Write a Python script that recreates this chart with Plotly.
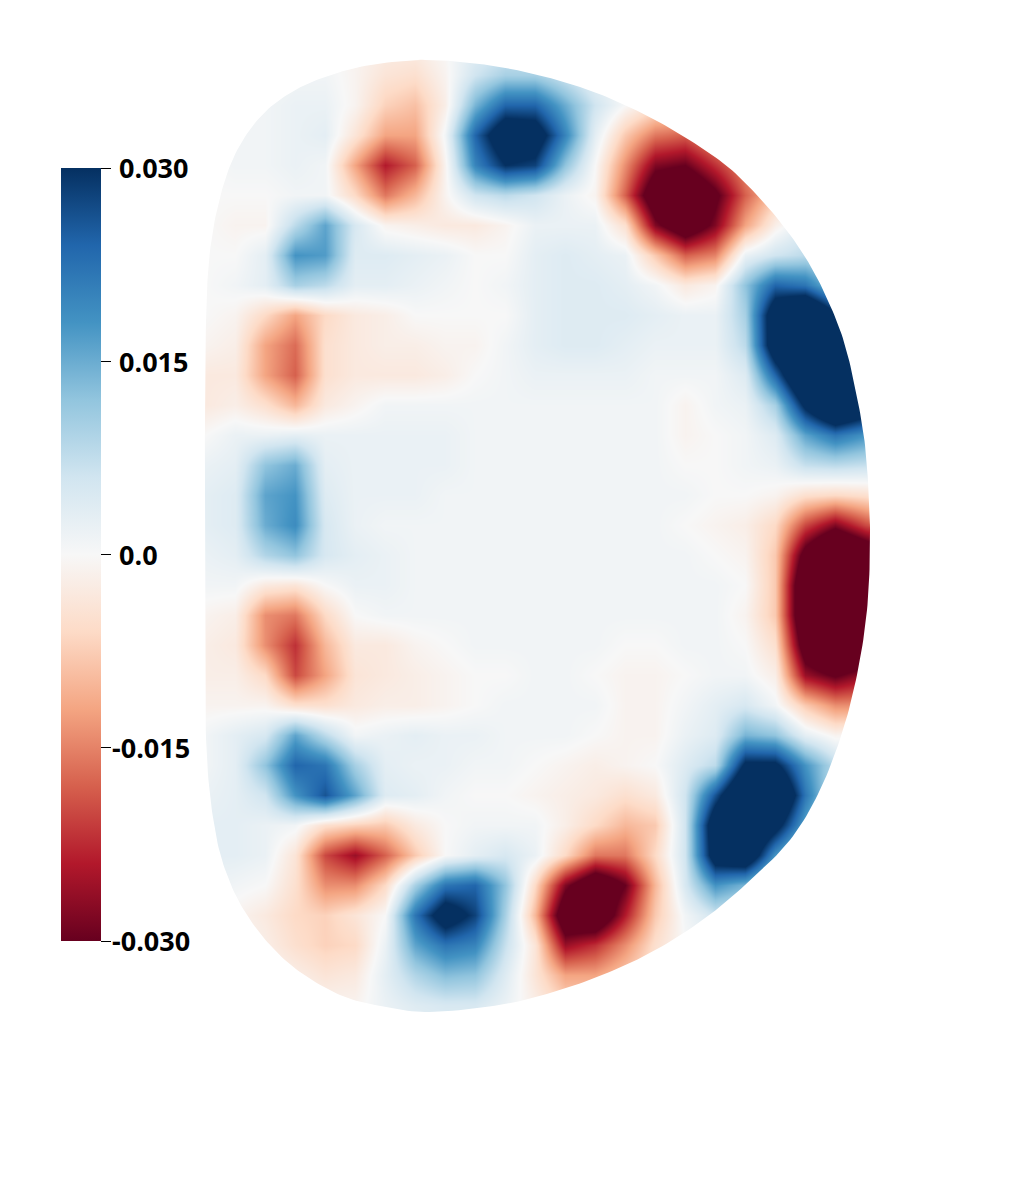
import plotly.graph_objects as go
import numpy as np

R = [1.025 + 0.15 * i for i in range(24)]
Z = [2.45 - 0.15 * i for i in range(34)]

# Field values, units of 1e-3, rows top to bottom
field = [
 [0,0,0,0,0,-1,-2,-2,0,3,4,4,2,1,0,0,0,0,0,0,0,0,0,0],
 [0,0,0,1,1,-1,-4,-5,-1,6,10,10,6,2,0,0,0,0,0,0,0,0,0,0],
 [0,0,1,2,2,-1,-7,-9,-2,14,24,24,15,6,0,-4,-5,-3,0,0,0,0,0,0],
 [0,1,1,2,3,-4,-12,-12,1,24,38,36,20,3,-8,-16,-18,-12,-4,0,0,0,0,0],
 [0,1,1,2,1,-12,-24,-18,-1,20,30,28,12,0,-14,-28,-30,-22,-14,-8,0,0,0,0],
 [0,0,0,1,1,-6,-16,-10,-1,6,8,6,2,-1,-18,-38,-42,-32,-18,-8,0,0,0,0],
 [0,-1,-1,8,16,5,-1,-2,-3,-3,-1,2,2,2,-5,-28,-38,-28,-12,-2,4,4,0,0],
 [0,0,3,18,17,4,4,3,2,0,0,3,4,3,2,-8,-18,-15,2,6,8,6,4,0],
 [0,1,3,10,8,3,3,2,1,0,1,3,4,4,3,1,-3,-1,12,24,22,12,8,2],
 [0,-1,-6,-12,-6,-3,-2,0,0,0,0,3,4,4,4,3,2,2,10,38,46,32,20,10],
 [-1,-2,-12,-17,-5,-3,-2,-2,-1,-1,1,3,4,4,3,2,2,2,8,38,46,46,30,15],
 [-3,-3,-12,-18,-5,-3,-3,-3,-2,0,1,2,2,2,2,1,1,1,4,24,46,48,38,20],
 [-3,-2,-5,-10,-3,-1,1,1,1,1,1,1,1,1,1,1,-1,1,2,10,32,46,38,25],
 [0,2,2,3,2,2,2,2,2,1,1,1,1,1,1,1,-1,0,1,4,16,22,18,15],
 [2,3,12,15,3,2,2,2,2,1,1,1,1,1,1,1,0,0,1,2,7,8,7,6],
 [3,4,16,18,4,2,2,2,1,1,1,1,1,1,1,1,1,0,0,-1,-5,-6,-5,-2],
 [3,4,15,19,5,2,1,1,1,1,1,1,1,1,1,1,0,-1,-2,-6,-20,-28,-20,-15],
 [2,3,9,12,5,3,2,1,1,1,1,1,1,1,1,1,1,0,-1,-8,-34,-48,-40,-30],
 [1,1,-3,-4,0,2,2,1,1,1,1,1,1,1,1,1,1,1,0,-8,-42,-48,-46,-30],
 [-1,-2,-14,-16,-6,0,1,1,1,1,1,1,1,1,1,1,1,1,-1,-8,-42,-48,-46,-30],
 [-2,-3,-14,-22,-10,-3,-3,-1,0,1,1,1,1,1,0,0,1,1,0,-5,-36,-46,-42,-30],
 [-2,-2,-6,-20,-12,-4,-3,-2,-1,0,0,1,1,0,-1,-1,0,1,1,-2,-26,-31,-26,-15],
 [-1,-1,-1,-5,-5,-3,-2,-2,-1,0,1,1,1,1,-1,-1,1,3,5,1,-8,-14,-14,-4],
 [1,3,5,16,8,1,2,3,2,2,1,1,1,0,-1,-1,2,4,14,12,3,-1,0,0],
 [1,3,12,24,22,10,3,2,2,1,1,0,-1,-2,-1,0,4,8,32,32,18,8,1,0],
 [2,3,6,18,26,16,4,3,1,0,0,-1,-2,-3,-5,-3,6,26,46,46,22,6,1,0],
 [3,3,2,1,-5,-7,-8,-3,0,1,1,1,-2,-6,-10,-8,6,38,46,34,16,4,0,0],
 [3,3,2,-4,-20,-26,-18,-8,0,3,5,2,-6,-16,-16,-6,6,36,40,18,6,2,0,0],
 [2,1,0,-5,-14,-14,-6,10,22,24,12,-6,-28,-40,-30,-10,5,18,14,6,2,0,0,0],
 [0,-1,-3,-6,-7,-4,0,22,36,28,10,-10,-38,-40,-24,-8,1,6,4,1,0,0,0,0],
 [0,0,-2,-5,-7,-6,2,16,22,20,7,-4,-26,-22,-14,-5,0,1,0,0,0,0,0,0],
 [0,0,0,-2,-4,-3,3,9,13,12,4,-4,-12,-12,-8,-3,0,0,0,0,0,0,0,0],
 [0,0,0,0,-1,-1,2,4,5,5,2,-2,-6,-6,-4,-1,0,0,0,0,0,0,0,0],
 [0,0,0,0,0,0,1,2,3,3,1,-1,-3,-3,-2,0,0,0,0,0,0,0,0,0],
]

# Plasma boundary, clockwise from the top
boundary_r = [2.125,2.40,2.65,2.90,3.125,3.365,3.615,3.775,3.925,4.05,4.15,4.225,4.285,4.325,4.345,4.35,4.335,4.29,4.215,4.10,3.95,3.725,3.50,3.25,3.00,2.75,2.50,2.15,1.90,1.70,1.50,1.35,1.225,1.135,1.075,1.035,1.025,1.025,1.025,1.035,1.065,1.125,1.20,1.31,1.45,1.625,1.85]
boundary_z = [2.375,2.355,2.31,2.24,2.15,2.025,1.86,1.71,1.535,1.35,1.15,0.95,0.69,0.45,0.175,-0.075,-0.375,-0.675,-0.975,-1.275,-1.525,-1.75,-1.935,-2.09,-2.205,-2.29,-2.35,-2.385,-2.355,-2.30,-2.185,-2.05,-1.885,-1.70,-1.475,-1.125,-0.625,0.175,0.675,1.225,1.525,1.775,1.95,2.10,2.21,2.29,2.35]

tick_values = [0.03, 0.015, 0.0, -0.015, -0.03]
tick_labels = ["0.030", "0.015", "0.0", "-0.015", "-0.030"]

colors = ["#67001f","#b2182b","#d6604d","#f4a582","#fddbc7","#f7f7f7",
          "#d1e5f0","#92c5de","#4393c3","#2166ac","#053061"]
scale = [[i / 10, c] for i, c in enumerate(colors)]

W, H = 1024, 1191
x_range = [0, W / 200]
y_range = [2.675 - H / 200, 2.675]

# Smooth closed outline (Catmull-Rom through the read points), used as the clip
def smooth(px, py, n=12):
    p = np.column_stack([px, py])
    m = len(p)
    out = []
    for i in range(m):
        a, b, c, d = p[(i - 1) % m], p[i], p[(i + 1) % m], p[(i + 2) % m]
        for t in np.linspace(0, 1, n, endpoint=False):
            out.append(0.5 * (2 * b + (c - a) * t + (2 * a - 5 * b + 4 * c - d) * t**2
                              + (3 * b - a - 3 * c + d) * t**3))
    out.append(out[0])
    return np.array(out)

edge = smooth(boundary_r, boundary_z)[::-1]
mask_x = [x_range[0], x_range[1], x_range[1], x_range[0], x_range[0]] + list(edge[:, 0]) + [x_range[0]]
mask_y = [y_range[1], y_range[1], y_range[0], y_range[0], y_range[1]] + list(edge[:, 1]) + [y_range[1]]

cb_left, cb_top, cb_bottom = 61, 168, 941
cb_len = cb_bottom - cb_top

fig = go.Figure()
fig.add_trace(go.Heatmap(
    x=R, y=Z, z=np.array(field) * 1e-3,
    zmin=-0.03, zmax=0.03, colorscale=scale, zsmooth="best", hoverinfo="skip",
    colorbar=dict(
        x=cb_left / W, xanchor="left", xpad=0,
        y=(H - cb_bottom) / H, yanchor="bottom", ypad=0,
        len=cb_len, lenmode="pixels", thickness=40, thicknessmode="pixels",
        outlinewidth=0, borderwidth=0,
        tickmode="array", tickvals=tick_values, ticktext=[""] * 5,
        ticks="outside", ticklen=10, tickwidth=1, tickcolor="black",
    ),
))
fig.add_trace(go.Scatter(
    x=mask_x, y=mask_y, mode="lines", line=dict(width=0), fill="toself",
    fillcolor="white", hoverinfo="skip", showlegend=False,
))

for v, t in zip(tick_values, tick_labels):
    fig.add_annotation(
        text=t, showarrow=False, xref="paper", yref="paper",
        x=(112 if t.startswith("-") else 119) / W, xanchor="left",
        y=((H - cb_bottom) + (v + 0.03) / 0.06 * cb_len) / H, yanchor="middle",
        xshift=-2,
        font=dict(family="Open Sans", size=27, color="black", weight=700),
    )

fig.update_layout(
    width=W, height=H, margin=dict(l=0, r=0, t=0, b=0),
    paper_bgcolor="white", plot_bgcolor="white", showlegend=False,
    xaxis=dict(range=x_range, visible=False, domain=[0, 1]),
    yaxis=dict(range=y_range, visible=False, domain=[0, 1]),
)
fig.write_html("out.html", config={"displayModeBar": False},
               post_script="document.body.style.margin='0';")
